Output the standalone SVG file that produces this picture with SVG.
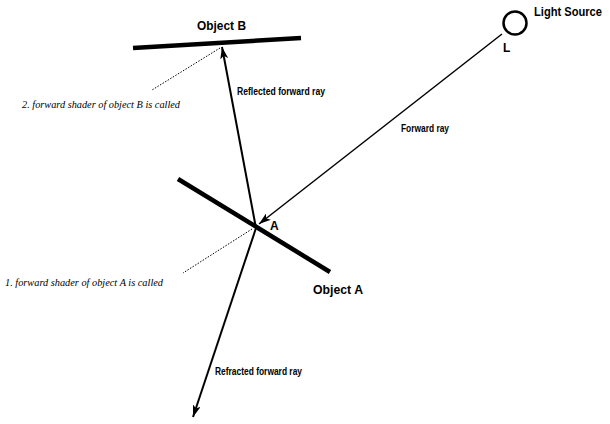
<svg xmlns="http://www.w3.org/2000/svg" width="610" height="424" viewBox="0 0 610 424">
<style>
.obj{stroke:#000;stroke-width:4.5;fill:none}
.ray{stroke:#000;stroke-width:2;fill:none}
.thin{stroke:#000;stroke-width:1.5;fill:none}
.dot{stroke:#000;stroke-width:1;stroke-dasharray:1.5 1.5;fill:none}
.lb{font-family:"Liberation Sans",Arial,sans-serif;font-weight:bold;fill:#000}
.it{font-family:"Liberation Serif","Times New Roman",serif;font-style:italic;font-size:10px;fill:#000}
</style>
<defs>
<marker id="ah" viewBox="0 0 12 8" refX="12" refY="4" markerWidth="12" markerHeight="8" markerUnits="userSpaceOnUse" orient="auto">
<path d="M0,0 L12,4 L0,8 L3,4 Z" fill="#000"/>
</marker>
</defs>
<rect width="610" height="424" fill="#fff"/>
<g id="objectB">
<line class="obj" x1="133" y1="48" x2="301" y2="38"/>
<text class="lb" x="197" y="30" font-size="13" textLength="49" lengthAdjust="spacingAndGlyphs">Object B</text>
</g>
<g id="objectA">
<line class="obj" x1="178" y1="179" x2="330" y2="272"/>
<text class="lb" x="313" y="294" font-size="13" textLength="50" lengthAdjust="spacingAndGlyphs">Object A</text>
<text class="lb" x="270" y="230" font-size="12">A</text>
</g>
<g id="lightSource">
<circle cx="515" cy="23" r="11.5" fill="#fff" stroke="#000" stroke-width="2.5"/>
<text class="lb" x="534" y="16" font-size="12" textLength="68" lengthAdjust="spacingAndGlyphs">Light Source</text>
<text class="lb" x="503" y="52" font-size="12">L</text>
</g>
<g id="connectors">
<line class="thin" x1="502" y1="34" x2="259" y2="224" marker-end="url(#ah)"/>
<line class="ray" x1="256" y1="228" x2="222" y2="47" marker-end="url(#ah)"/>
<line class="ray" x1="256" y1="228" x2="193" y2="417" marker-end="url(#ah)"/>
<line class="dot" x1="220" y1="48" x2="152" y2="90"/>
<line class="dot" x1="252" y1="229" x2="183" y2="273"/>
</g>
<g id="labels">
<text class="lb" x="237" y="95" font-size="10" textLength="88" lengthAdjust="spacingAndGlyphs">Reflected forward ray</text>
<text class="lb" x="401" y="132" font-size="10" textLength="48" lengthAdjust="spacingAndGlyphs">Forward ray</text>
<text class="lb" x="215" y="375" font-size="10" textLength="87" lengthAdjust="spacingAndGlyphs">Refracted forward ray</text>
<text class="it" x="22" y="108" textLength="158" lengthAdjust="spacingAndGlyphs">2. forward shader of object B is called</text>
<text class="it" x="5" y="286" textLength="158" lengthAdjust="spacingAndGlyphs">1. forward shader of object A is called</text>
</g>
</svg>
